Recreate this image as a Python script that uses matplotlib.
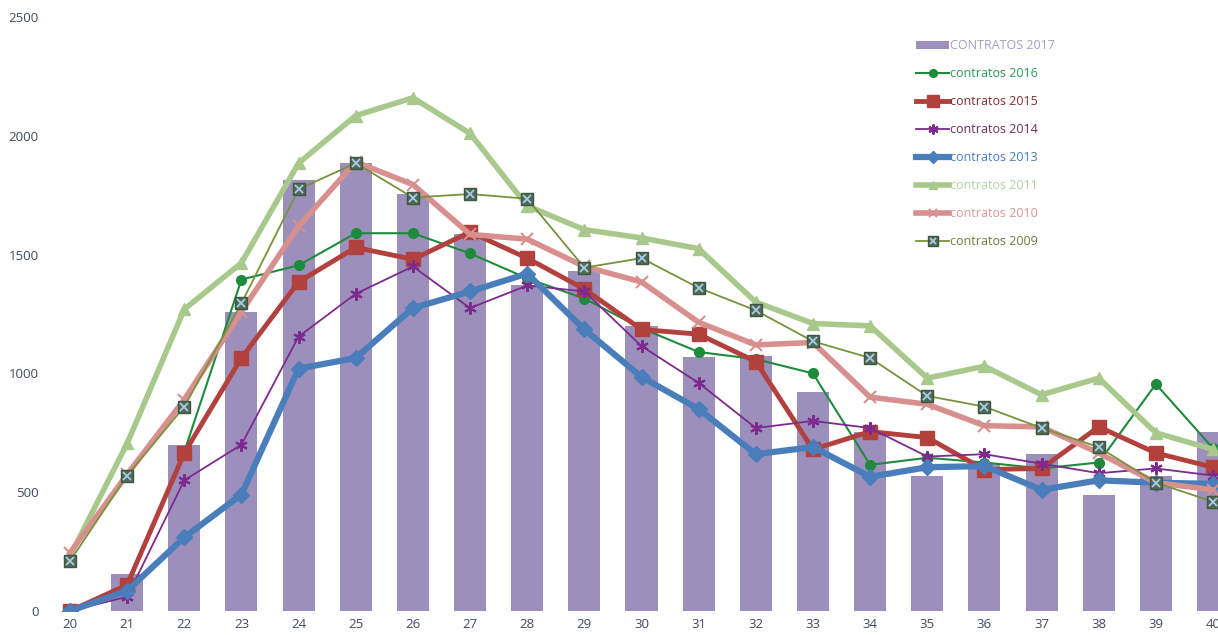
import matplotlib
matplotlib.use("Agg")
import matplotlib.pyplot as plt
from matplotlib.legend_handler import HandlerTuple

# Weeks on the x axis
weeks = list(range(20, 41))

# Bars: CONTRATOS 2017
c2017 = [0, 155, 700, 1260, 1815, 1885, 1755, 1585, 1370, 1430, 1200,
         1070, 1075, 920, 755, 570, 625, 660, 490, 570, 755]

# Lines
c2016 = [0, 100, 670, 1395, 1455, 1590, 1590, 1505, 1400, 1315, 1190,
         1090, 1060, 1000, 615, 645, 625, 600, 625, 955, 685]
c2015 = [0, 110, 665, 1065, 1385, 1530, 1480, 1595, 1485, 1355, 1185,
         1165, 1050, 680, 755, 730, 595, 600, 775, 665, 605]
c2014 = [0, 60, 550, 700, 1155, 1335, 1450, 1275, 1370, 1345, 1115,
         960, 770, 800, 770, 650, 660, 620, 580, 600, 570]
c2013 = [0, 85, 310, 490, 1020, 1065, 1275, 1345, 1420, 1185, 985,
         850, 660, 690, 565, 605, 610, 510, 550, 540, 535]
c2011 = [230, 705, 1270, 1465, 1885, 2085, 2160, 2010, 1705, 1605, 1570,
         1525, 1300, 1210, 1200, 980, 1030, 910, 980, 750, 680]
c2010 = [245, 575, 890, 1260, 1620, 1890, 1795, 1585, 1565, 1450, 1385,
         1215, 1120, 1130, 900, 870, 780, 775, 665, 540, 510]
c2009 = [210, 570, 860, 1295, 1775, 1885, 1740, 1755, 1735, 1445, 1485,
         1360, 1265, 1135, 1065, 905, 860, 770, 690, 540, 460]

plt.rcParams['font.family'] = ['Open Sans', 'DejaVu Sans']

fig = plt.figure(figsize=(12.18, 6.35), dpi=100)
# axes run past the right edge, the reference is cropped there
ax = fig.add_axes([41.4 / 1218, 24 / 635, 1200.2 / 1218, 594 / 635])

bars = ax.bar(weeks, c2017, width=0.56, color='#9c8fbc', zorder=1,
              label='CONTRATOS 2017')

l16, = ax.plot(weeks, c2016, color='#1e8b3c', lw=1.5, marker='o', ms=7,
               zorder=3, label='contratos 2016')
l15, = ax.plot(weeks, c2015, color='#b2403d', lw=3.5, marker='s', ms=10,
               zorder=3, label='contratos 2015')
l14, = ax.plot(weeks, c2014, color='#7d2a8e', lw=1.3, marker=(6, 2, 0), ms=9,
               mew=1.5, zorder=3, label='contratos 2014')
l13, = ax.plot(weeks, c2013, color='#4a7ebb', lw=4.5, marker='D', ms=8,
               zorder=3, label='contratos 2013')
l11, = ax.plot(weeks, c2011, color='#a8c88c', lw=4, marker='^', ms=8,
               zorder=3, label='contratos 2011')
l10, = ax.plot(weeks, c2010, color='#d8908e', lw=4, marker='x', ms=8,
               mew=1.5, zorder=3, label='contratos 2010')
l09, = ax.plot(weeks, c2009, color='#77933c', lw=1.3, marker='s', ms=9,
               mfc='#4f6b55', mec='#3f5640', zorder=4, label='contratos 2009')
l09x, = ax.plot(weeks, c2009, ls='none', marker='x', ms=6, mew=1.3,
                color='#a9cbe8', zorder=5)

ax.set_xlim(19.5, 40.5)
ax.set_ylim(0, 2500)
ax.set_xticks(weeks)
ax.set_yticks(range(0, 2501, 500))
ax.tick_params(length=0, labelsize=9.5, labelcolor='#3e4b5e')
ax.tick_params(axis='x', pad=5)
ax.tick_params(axis='y', pad=2)
for s in ax.spines.values():
    s.set_visible(False)

handles = [bars, l16, l15, l14, l13, l11, l10, (l09, l09x)]
labels = ['CONTRATOS 2017', 'contratos 2016', 'contratos 2015',
          'contratos 2014', 'contratos 2013', 'contratos 2011',
          'contratos 2010', 'contratos 2009']
leg = ax.legend(handles, labels, loc='upper left',
                bbox_to_anchor=(905 / 1218, 1 - 28 / 635),
                bbox_transform=fig.transFigure, frameon=False,
                fontsize=9, handlelength=2.6, handletextpad=0.1,
                labelspacing=1.2, markerscale=0.8,
                handler_map={tuple: HandlerTuple(ndivide=1)})
text_colors = ['#a59ec0', '#2a9a5a', '#7f3030', '#6f2c55', '#4a7ebb',
               '#b5cf9f', '#d99694', '#6b7f3a']
for t, c in zip(leg.get_texts(), text_colors):
    t.set_color(c)

fig.savefig('out.png', dpi=100)
